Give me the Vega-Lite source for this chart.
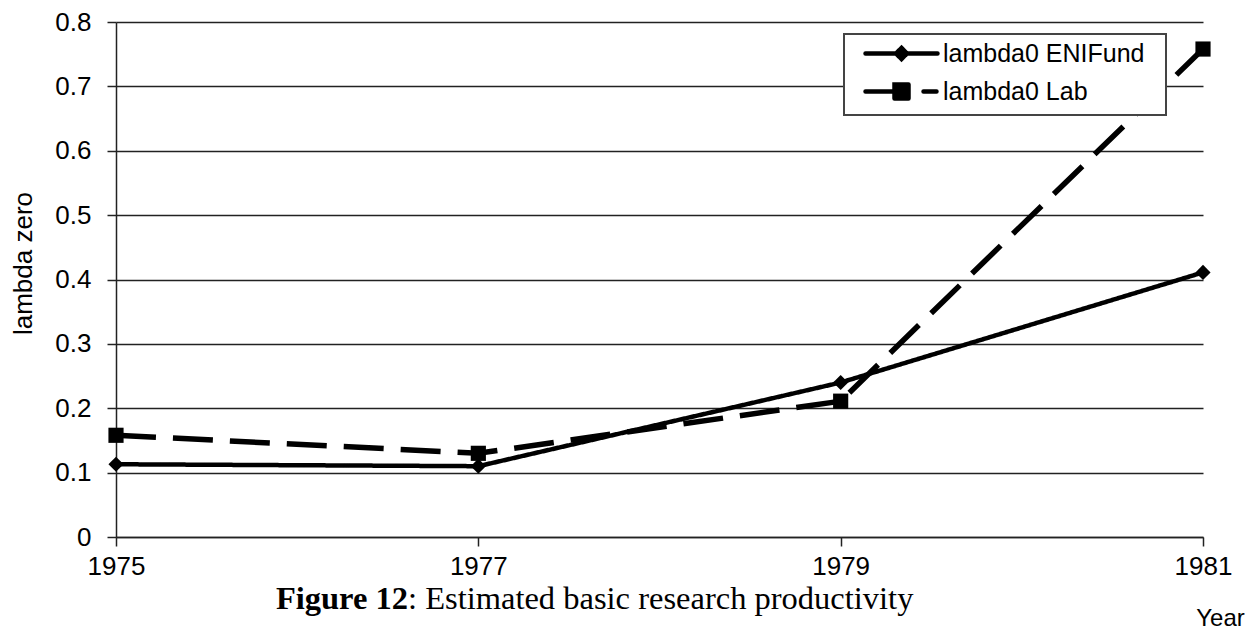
{
  "$schema": "https://vega.github.io/schema/vega-lite/v6.json",
  "width": 1087,
  "height": 515,
  "autosize": {"type": "none"},
  "padding": {"left": 116, "top": 22, "right": 45, "bottom": 100},
  "background": "white",
  "config": {
    "view": {"stroke": null},
    "font": "Liberation Sans",
    "axis": {"labelFont": "Liberation Sans", "titleFont": "Liberation Sans", "labelColor": "black", "titleColor": "black", "titleFontWeight": "normal"}
  },
  "title": {
    "text": "Figure 12",
    "subtitle": ": Estimated basic research productivity",
    "orient": "bottom",
    "anchor": "start",
    "frame": "group",
    "dx": 292,
    "offset": -47,
    "font": "Liberation Serif",
    "fontSize": 32.5,
    "fontWeight": "bold",
    "color": "black",
    "subtitleFont": "Liberation Serif",
    "subtitleFontSize": 32.5,
    "subtitleFontWeight": "normal",
    "subtitleColor": "black",
    "subtitlePadding": -32.5,
    "encode": {
      "title": {"update": {"align": {"value": "right"}}},
      "subtitle": {"update": {"align": {"value": "left"}}}
    }
  },
  "data": {
    "values": [
      {"year": 1975, "series": "lambda0 ENIFund", "value": 0.113},
      {"year": 1977, "series": "lambda0 ENIFund", "value": 0.110},
      {"year": 1979, "series": "lambda0 ENIFund", "value": 0.240},
      {"year": 1981, "series": "lambda0 ENIFund", "value": 0.411},
      {"year": 1975, "series": "lambda0 Lab", "value": 0.158},
      {"year": 1977, "series": "lambda0 Lab", "value": 0.130},
      {"year": 1979, "series": "lambda0 Lab", "value": 0.211},
      {"year": 1981, "series": "lambda0 Lab", "value": 0.758}
    ]
  },
  "encoding": {
    "x": {
      "field": "year", "type": "quantitative",
      "scale": {"domain": [1975, 1981], "nice": false, "zero": false},
      "axis": {
        "values": [1975, 1977, 1979, 1981], "format": "d", "grid": false,
        "domainColor": "#222", "domainWidth": 1.5, "tickColor": "#222", "tickWidth": 1.5, "tickSize": 9,
        "labelFontSize": 26, "labelPadding": 7, "labelFlush": false,
        "title": "Year", "titleFontSize": 24, "titleX": 1104, "titleY": 81,
        "titleAlign": "center", "titleBaseline": "middle"
      }
    },
    "y": {
      "field": "value", "type": "quantitative",
      "scale": {"domain": [0, 0.8], "nice": false},
      "axis": {
        "values": [0, 0.1, 0.2, 0.3, 0.4, 0.5, 0.6, 0.7, 0.8], "format": ".1~f",
        "grid": true, "gridColor": "#222", "gridWidth": 1.5,
        "domainColor": "#222", "domainWidth": 1.5, "tickColor": "#222", "tickWidth": 1.5, "tickSize": 9,
        "labelFontSize": 26, "labelPadding": 16,
        "title": "lambda zero", "titleFontSize": 26, "titleX": -93, "titleY": 241,
        "titleAlign": "center", "titleBaseline": "middle", "titleAngle": -90
      }
    }
  },
  "layer": [
    {
      "mark": {"type": "line", "strokeCap": "butt", "strokeJoin": "miter"},
      "encoding": {
        "color": {
          "field": "series", "type": "nominal",
          "scale": {"domain": ["lambda0 ENIFund", "lambda0 Lab"], "range": ["black", "black"]},
          "legend": {
            "title": "\u00a0",
            "titleOrient": "left",
            "titlePadding": 14,
            "titleFontSize": 10,
            "titleColor": "white",
            "orient": "none",
            "legendX": 728,
            "legendY": 12,
            "padding": 7,
            "fillColor": "white",
            "strokeColor": "#444",
            "symbolSize": 400,
            "symbolOffset": 24,
            "labelOffset": 29,
            "labelFontSize": 25,
            "labelLimit": 500,
            "labelFont": "Liberation Sans",
            "labelColor": "black",
            "labelExpr": "datum.label + '\u00a0\u00a0\u200b'",
            "rowPadding": 7,
            "encode": {
              "legend": {"update": {"strokeWidth": {"value": 2}}},
              "symbols": {
                "update": {
                  "shape": [
                    {"test": "datum.value === 'lambda0 Lab'", "value": "M-3.6,0H-0.7M-0.7,-0.7H0.7V0.7H-0.7ZM2.2,0H3.5"},
                    {"value": "M-3.6,0H3.6M0,-0.55L0.55,0L0,0.55L-0.55,0Z"}
                  ],
                  "fill": {"value": "black"},
                  "stroke": {"value": "black"},
                  "strokeWidth": {"value": 4.5},
                  "strokeDash": {"value": [1, 0]},
                  "strokeCap": {"value": "round"},
                  "opacity": {"value": 1}
                }
              }
            }
          }
        },
        "strokeDash": {
          "condition": {"test": "datum.series === 'lambda0 Lab'", "value": [40, 17]},
          "value": [1, 0]
        },
        "strokeWidth": {
          "condition": {"test": "datum.series === 'lambda0 Lab'", "value": 5.5},
          "value": 4.5
        }
      }
    },
    {
      "mark": {"type": "point", "filled": true, "color": "black", "opacity": 1, "size": 230},
      "encoding": {
        "shape": {
          "condition": {"test": "datum.series === 'lambda0 Lab'", "value": "square"},
          "value": "diamond"
        }
      }
    }
  ]
}
